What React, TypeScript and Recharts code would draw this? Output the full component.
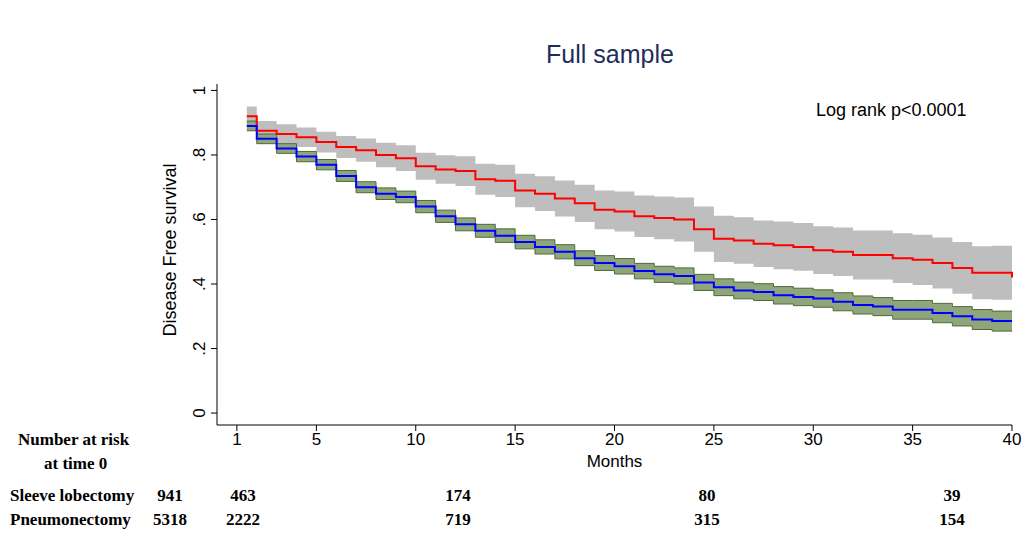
import React from "react";
import { ComposedChart, Line, Area, XAxis, YAxis } from "recharts";

const months = [1.5, 2, 3, 4, 5, 6, 7, 8, 9, 10, 11, 12, 13, 14, 15, 16, 17, 18, 19, 20, 21, 22, 23, 24, 25, 26, 27, 28, 29, 30, 31, 32, 33, 34, 35, 36, 37, 38, 39, 40];
const sleeve = [0.92, 0.875, 0.865, 0.855, 0.84, 0.825, 0.815, 0.8, 0.79, 0.765, 0.755, 0.75, 0.725, 0.72, 0.69, 0.68, 0.665, 0.65, 0.63, 0.625, 0.61, 0.605, 0.6, 0.57, 0.54, 0.535, 0.525, 0.52, 0.515, 0.505, 0.5, 0.49, 0.49, 0.48, 0.475, 0.465, 0.45, 0.435, 0.435, 0.42];
const sleeveHalf = [0.03, 0.03, 0.03, 0.03, 0.032, 0.034, 0.036, 0.038, 0.04, 0.042, 0.044, 0.046, 0.048, 0.05, 0.052, 0.054, 0.056, 0.058, 0.06, 0.062, 0.064, 0.066, 0.068, 0.07, 0.072, 0.072, 0.072, 0.074, 0.074, 0.074, 0.075, 0.076, 0.076, 0.077, 0.078, 0.079, 0.08, 0.082, 0.084, 0.085];
const pneumo = [0.89, 0.85, 0.82, 0.795, 0.77, 0.735, 0.7, 0.68, 0.67, 0.64, 0.61, 0.585, 0.565, 0.55, 0.53, 0.515, 0.5, 0.48, 0.465, 0.455, 0.44, 0.43, 0.425, 0.405, 0.39, 0.38, 0.375, 0.365, 0.36, 0.355, 0.345, 0.335, 0.33, 0.32, 0.32, 0.31, 0.3, 0.29, 0.285, 0.285];
const pneumoHalf = [0.015, 0.015, 0.015, 0.016, 0.016, 0.017, 0.017, 0.018, 0.018, 0.019, 0.019, 0.02, 0.02, 0.021, 0.021, 0.022, 0.022, 0.023, 0.023, 0.024, 0.024, 0.025, 0.025, 0.025, 0.026, 0.026, 0.026, 0.027, 0.027, 0.027, 0.028, 0.028, 0.028, 0.029, 0.029, 0.03, 0.03, 0.031, 0.031, 0.032];
const xTicks = [1, 5, 10, 15, 20, 25, 30, 35, 40];
const yTicks = [0, 0.2, 0.4, 0.6, 0.8, 1];
const sleeveRisk = ["941", "463", "174", "80", "39"];
const pneumoRisk = ["5318", "2222", "719", "315", "154"];
const riskX = [170, 243, 458, 707, 952];

const data = months.map((m, i) => ({
  m,
  sleeve: sleeve[i],
  sleeveBand: [sleeve[i] - sleeveHalf[i], sleeve[i] + sleeveHalf[i]],
  pneumo: pneumo[i],
  pneumoBand: [pneumo[i] - pneumoHalf[i], pneumo[i] + pneumoHalf[i]],
}));

const YTick = (props: any) => {
  const { x, y, payload } = props;
  const label = payload.value === 0 ? "0" : payload.value === 1 ? "1" : String(payload.value).replace("0.", ".");
  return (
    <text x={x - 4} y={y} transform={`rotate(-90 ${x - 4} ${y})`} textAnchor="middle" fontSize={17} fill="#000">
      {label}
    </text>
  );
};

const YLabel = () => (
  <text x={176} y={250} transform="rotate(-90 176 250)" textAnchor="middle" fontSize={18} fill="#000">
    Disease Free survival
  </text>
);

const serif = { fontFamily: "'Liberation Serif', 'Times New Roman', serif", fontWeight: 700, fontSize: 17, position: "absolute" as const };

export default function App() {
  return (
    <div style={{ position: "absolute", left: 0, top: 0, width: 1029, height: 536, background: "#fff", fontFamily: "'Liberation Sans', Arial, sans-serif" }}>
      <ComposedChart width={1029} height={536} data={data} margin={{ top: 84, right: 17, bottom: 81, left: 187 }}>
        <XAxis dataKey="m" type="number" domain={[0, 40]} ticks={xTicks} tick={{ fontSize: 17, fill: "#000" }} tickLine={{ stroke: "#000" }} axisLine={{ stroke: "#000" }} tickSize={6} label={{ value: "Months", position: "insideBottom", offset: -12, fontSize: 17, fill: "#000" }} />
        <YAxis type="number" domain={[-0.037, 1.02]} ticks={yTicks} width={30} tick={<YTick />} tickLine={{ stroke: "#000" }} axisLine={{ stroke: "#000" }} tickSize={6} label={<YLabel />} />
        <Area dataKey="sleeveBand" type="stepAfter" fill="#bebebe" fillOpacity={1} stroke="none" isAnimationActive={false} />
        <Area dataKey="pneumoBand" type="stepAfter" fill="#8fa67c" fillOpacity={1} stroke="#4f6b35" strokeWidth={1} isAnimationActive={false} />
        <Line dataKey="sleeve" type="stepAfter" stroke="#ff0000" strokeWidth={2} dot={false} isAnimationActive={false} />
        <Line dataKey="pneumo" type="stepAfter" stroke="#0000ff" strokeWidth={2} dot={false} isAnimationActive={false} />
      </ComposedChart>
      <div style={{ position: "absolute", left: 0, top: 40, width: 1220, textAlign: "center", fontSize: 25, color: "#1f2d5a" }}>Full sample</div>
      <div style={{ position: "absolute", left: 816, top: 100, fontSize: 18, color: "#000" }}>Log rank p&lt;0.0001</div>
      <div style={{ ...serif, left: 18, top: 430 }}>Number at risk</div>
      <div style={{ ...serif, left: 44, top: 454 }}>at time 0</div>
      <div style={{ ...serif, left: 10, top: 486 }}>Sleeve lobectomy</div>
      <div style={{ ...serif, left: 10, top: 510 }}>Pneumonectomy</div>
      {sleeveRisk.map((v, i) => (
        <div key={"s" + i} style={{ ...serif, left: riskX[i] - 20, width: 40, textAlign: "center", top: 486 }}>{v}</div>
      ))}
      {pneumoRisk.map((v, i) => (
        <div key={"p" + i} style={{ ...serif, left: riskX[i] - 20, width: 40, textAlign: "center", top: 510 }}>{v}</div>
      ))}
    </div>
  );
}
